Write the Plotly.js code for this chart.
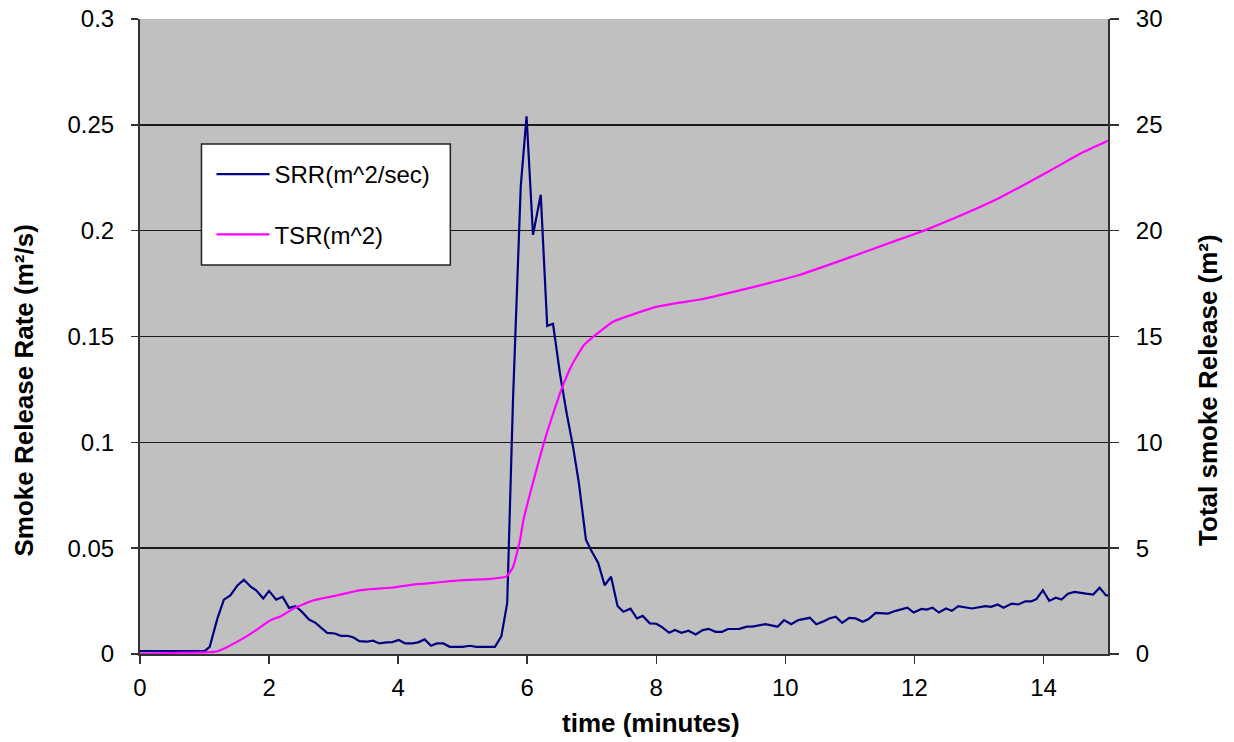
<!DOCTYPE html>
<html><head><meta charset="utf-8">
<script src="https://cdn.plot.ly/plotly-3.0.1.min.js"></script>
<style>html,body{margin:0;padding:0;background:#fff}#chart{width:1234px;height:742px}</style>
</head><body><div id="chart"></div>
<script>
const srrTime = [0, 0.5, 1.0, 1.08, 1.2, 1.30, 1.40, 1.51, 1.61, 1.72, 1.80, 1.91, 2.0, 2.11, 2.21, 2.31, 2.41, 2.51, 2.62, 2.72, 2.81, 2.90, 3.02, 3.11, 3.22, 3.31, 3.40, 3.51, 3.61, 3.71, 3.82, 3.91, 4.01, 4.11, 4.22, 4.31, 4.41, 4.51, 4.60, 4.70, 4.80, 4.91, 5.0, 5.11, 5.21, 5.30, 5.40, 5.50, 5.60, 5.69, 5.78, 5.90, 5.99, 6.09, 6.21, 6.31, 6.40, 6.51, 6.61, 6.71, 6.80, 6.91, 6.99, 7.10, 7.20, 7.30, 7.40, 7.49, 7.60, 7.70, 7.79, 7.90, 8.0, 8.08, 8.20, 8.29, 8.39, 8.50, 8.61, 8.72, 8.81, 8.92, 9.02, 9.11, 9.29, 9.40, 9.49, 9.69, 9.88, 9.98, 10.09, 10.20, 10.38, 10.48, 10.59, 10.68, 10.78, 10.88, 10.99, 11.09, 11.20, 11.29, 11.40, 11.59, 11.71, 11.89, 11.99, 12.11, 12.19, 12.28, 12.38, 12.49, 12.58, 12.68, 12.89, 13.10, 13.19, 13.29, 13.38, 13.51, 13.61, 13.72, 13.81, 13.89, 13.99, 14.09, 14.19, 14.28, 14.38, 14.48, 14.66, 14.77, 14.87, 14.97, 15.0];
const srrValue = [0.0014, 0.0014, 0.0014, 0.0034, 0.0168, 0.0257, 0.0277, 0.0324, 0.0351, 0.0317, 0.0301, 0.0262, 0.0298, 0.0257, 0.027, 0.0218, 0.0226, 0.0199, 0.0163, 0.0147, 0.0124, 0.01, 0.0097, 0.0086, 0.0086, 0.0078, 0.0061, 0.0058, 0.0063, 0.005, 0.0055, 0.0056, 0.0066, 0.005, 0.005, 0.0055, 0.0069, 0.0039, 0.005, 0.005, 0.0034, 0.0034, 0.0034, 0.0039, 0.0034, 0.0034, 0.0034, 0.0034, 0.0084, 0.024, 0.12, 0.221, 0.254, 0.198, 0.217, 0.155, 0.156, 0.132, 0.114, 0.098, 0.081, 0.054, 0.049, 0.043, 0.0325, 0.0365, 0.0227, 0.020, 0.0214, 0.0168, 0.018, 0.0145, 0.0143, 0.0129, 0.010, 0.0113, 0.010, 0.011, 0.0092, 0.0113, 0.0119, 0.0105, 0.0105, 0.0118, 0.0119, 0.0129, 0.0129, 0.0141, 0.0129, 0.016, 0.0141, 0.016, 0.0171, 0.0141, 0.0154, 0.0168, 0.0176, 0.0147, 0.0171, 0.0168, 0.0152, 0.0165, 0.0194, 0.0191, 0.0204, 0.0219, 0.0196, 0.0213, 0.021, 0.0219, 0.0196, 0.0215, 0.0204, 0.0226, 0.0215, 0.0226, 0.0223, 0.0234, 0.0219, 0.0238, 0.0234, 0.0249, 0.0249, 0.0259, 0.0301, 0.0251, 0.0266, 0.0257, 0.0285, 0.0293, 0.0285, 0.0281, 0.0313, 0.0277, 0.0277];
const tsrTime = [0, 0.62, 1.0, 1.17, 1.33, 1.57, 1.80, 2.01, 2.19, 2.40, 2.69, 3.05, 3.40, 3.88, 4.23, 4.59, 4.94, 5.18, 5.47, 5.68, 5.78, 5.89, 5.94, 6.09, 6.30, 6.53, 6.70, 6.88, 7.07, 7.33, 7.69, 8.0, 8.36, 8.68, 9.45, 10.23, 11.0, 11.78, 12.19, 12.55, 13.33, 14.10, 14.61, 15.0];
const tsrValue = [0, 0.06, 0.08, 0.11, 0.3, 0.69, 1.13, 1.57, 1.80, 2.18, 2.54, 2.77, 3.01, 3.13, 3.28, 3.37, 3.48, 3.51, 3.56, 3.67, 4.1, 5.4, 6.3, 8.1, 10.4, 12.5, 13.7, 14.6, 15.1, 15.7, 16.1, 16.4, 16.6, 16.75, 17.3, 17.92, 18.74, 19.6, 20.05, 20.5, 21.57, 22.83, 23.7, 24.25];
const xTickVals = [0, 2, 4, 6, 8, 10, 12, 14];
const seriesNames = ['SRR(m^2/sec)', 'TSR(m^2)'];
const leftTitle = 'Smoke Release Rate (m²/s)';
const rightTitle = 'Total smoke Release (m²)';
const xTitle = 'time (minutes)';

const FONT = 'Liberation Sans, Arial, sans-serif';
const L = 139.5, R = 1108, T = 19, B = 654;
const W = 1234, H = 742;
const px2x = p => (p - L) / (R - L);
const px2y = p => (B - p) / (B - T);

const traces = [
  {x: srrTime, y: srrValue, name: seriesNames[0], type: 'scatter', mode: 'lines',
   line: {color: '#000080', width: 2.2}, yaxis: 'y', legendgroup: 'a'},
  {x: tsrTime, y: tsrValue, name: seriesNames[1], type: 'scatter', mode: 'lines',
   line: {color: '#ff00ff', width: 2.2, shape: 'spline', smoothing: 0.4}, yaxis: 'y2', legendgroup: 'b'}
];

const layout = {
  width: W, height: H,
  margin: {l: L, r: W - R, t: T, b: H - B},
  paper_bgcolor: '#ffffff', plot_bgcolor: '#c0c0c0',
  font: {family: FONT, size: 24, color: '#000'},
  showlegend: true,
  legend: {x: px2x(211), y: px2y(152), xanchor: 'left', yanchor: 'top',
    bgcolor: 'rgba(0,0,0,0)', borderwidth: 0, font: {family: FONT, size: 24, color: '#000'},
    tracegroupgap: 26, itemwidth: 53, traceorder: 'grouped'},
  xaxis: {range: [0, 15], tickvals: xTickVals, ticks: 'outside', ticklen: 8, tickwidth: 1.5, tickcolor: '#333',
    showline: true, linecolor: '#333', linewidth: 2, showgrid: false, zeroline: false,
    tickfont: {family: FONT, size: 24}, ticklabelstandoff: 3, fixedrange: true},
  yaxis: {range: [0, 0.3], dtick: 0.05, ticks: 'outside', ticklen: 7, tickwidth: 1.5, tickcolor: '#333',
    showline: true, linecolor: '#333', linewidth: 2, showgrid: true, gridcolor: '#1a1a1a', gridwidth: 1.5,
    zeroline: false, tickfont: {family: FONT, size: 24}, ticklabelstandoff: 12},
  yaxis2: {range: [0, 30], dtick: 5, overlaying: 'y', side: 'right', ticks: 'outside', ticklen: 9, tickwidth: 1.5,
    tickcolor: '#333', showline: true, linecolor: '#333', linewidth: 2, showgrid: false, zeroline: false,
    tickfont: {family: FONT, size: 24}, ticklabelstandoff: 12},
  shapes: [
    {type: 'rect', xref: 'paper', yref: 'paper', x0: px2x(201), x1: px2x(450), y0: px2y(265), y1: px2y(144),
     fillcolor: '#ffffff', line: {color: '#222', width: 1.5}, layer: 'above'}
  ],
  annotations: [
    {text: '<b>' + leftTitle + '</b>', xref: 'paper', yref: 'paper', x: px2x(23), y: px2y(391),
     textangle: -90, showarrow: false, xanchor: 'center', yanchor: 'middle', font: {family: FONT, size: 26}},
    {text: '<b>' + rightTitle + '</b>', xref: 'paper', yref: 'paper', x: px2x(1208), y: px2y(390),
     textangle: -90, showarrow: false, xanchor: 'center', yanchor: 'middle', font: {family: FONT, size: 26}},
    {text: '<b>' + xTitle + '</b>', xref: 'paper', yref: 'paper', x: px2x(651), y: px2y(723),
     showarrow: false, xanchor: 'center', yanchor: 'middle', font: {family: FONT, size: 26}}
  ]
};

Plotly.newPlot('chart', traces, layout, {displayModeBar: false, staticPlot: true});
</script>
</body></html>
